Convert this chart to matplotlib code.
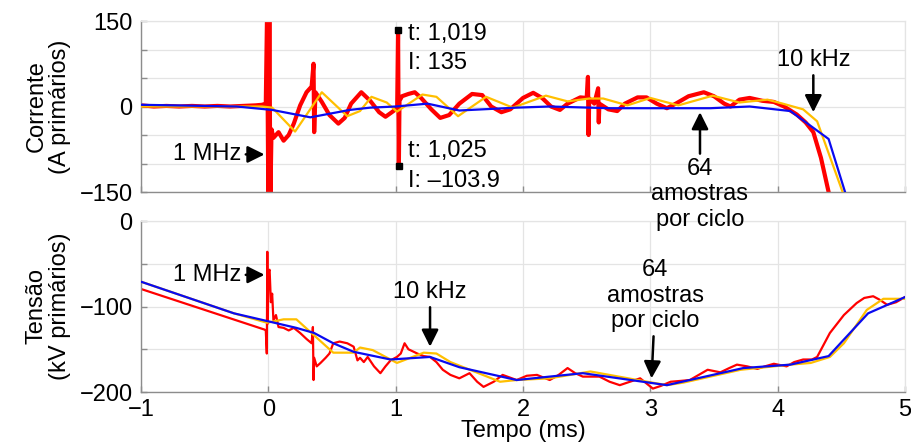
import matplotlib
matplotlib.use('Agg')
import matplotlib.pyplot as plt

plt.rcParams['font.family'] = ['Liberation Sans', 'DejaVu Sans']
plt.rcParams['font.size'] = 17

# ---- Corrente (A primarios) ----
cur_red_t = [-1.0, -0.9, -0.8, -0.7, -0.6, -0.5, -0.4, -0.3, -0.2, -0.1, -0.05, -0.02,
             -0.01, 0.0, 0.008, 0.016, 0.025, 0.04, 0.08, 0.12, 0.16, 0.2, 0.25, 0.3, 0.34,
             0.355, 0.36, 0.37, 0.42, 0.48, 0.55, 0.6, 0.65, 0.73, 0.8, 0.87, 0.92, 0.97,
             1.0, 1.012, 1.019, 1.022, 1.025, 1.03, 1.05, 1.1, 1.15, 1.2, 1.28, 1.35, 1.42,
             1.5, 1.6, 1.68, 1.75, 1.83, 1.9, 2.0, 2.08, 2.15, 2.22, 2.29, 2.35, 2.45, 2.5,
             2.51, 2.515, 2.52, 2.56, 2.59, 2.595, 2.6, 2.67, 2.74, 2.8, 2.9, 2.97, 3.05,
             3.13, 3.2, 3.3, 3.42, 3.5, 3.58, 3.63, 3.7, 3.78, 3.88, 3.97, 4.05, 4.15, 4.22,
             4.28, 4.34, 4.40, 4.43]
cur_red_i = [2, 0, 1, 0, 1, 0, 1, 0, 1, 2, 3, 5,
             165, -165, 165, -165, -40, -55, -45, -60, -50, -30, 2, 25, 35,
             75, -45, 25, 8, -15, -30, -20, 5, 25, 10, -10, -18, -10,
             -5, 0, 135, 0, -103.9, 10, 18, 22, 25, 15, -5, -20, -15,
             5, 22, 20, 0, -10, -5, 15, 24, 15, 0, -6, 5, 16, 15,
             52, -50, 14, 5, 32, -28, 5, -5, -8, 5, 16, 16, 5,
             -3, 5, 18, 25, 18, 5, 0, 12, 15, 10, 8, 0, -14, -28,
             -45, -90, -150, -175]

cur_yel_t = [-1.0, -0.05, 0.03, 0.21, 0.42, 0.62, 0.72, 0.81, 0.93, 1.01, 1.21, 1.32,
             1.49, 1.71, 1.92, 2.18, 2.35, 2.52, 2.63, 2.82, 3.0, 3.22, 3.49, 3.7, 3.92,
             4.04, 4.2, 4.31, 4.51, 4.55]
cur_yel_i = [0, 0, -2, -44, 25, -17, -8, 17, 7, -9, 21, 17,
             -17, 17, -2, 19, 9, 14, 14, 2, 15, 2, 19, 7, 12,
             5, -5, -26, -150, -180]

cur_blu_t = [-1.0, -0.25, 0.03, 0.33, 0.64, 0.8, 1.0, 1.25, 1.5, 1.95, 2.21, 2.68,
             3.47, 3.78, 4.1, 4.4, 4.55]
cur_blu_i = [3, 0, -6, -19, -6, -2, 0, 5, -7, -2, 0, -3,
             -3, 0, -8, -57, -165]

# ---- Tensao (kV primarios) ----
ten_red_t = [-1.0, -0.03, -0.02, -0.012, -0.008, -0.004, 0.0, 0.01, 0.02, 0.03, 0.04,
             0.06, 0.08, 0.12, 0.16, 0.2, 0.25, 0.3, 0.34, 0.35, 0.355, 0.36, 0.38, 0.41,
             0.45, 0.48, 0.51, 0.56, 0.62, 0.67, 0.7, 0.72, 0.75, 0.78, 0.83, 0.88, 0.92,
             0.96, 1.01, 1.04, 1.07, 1.1, 1.17, 1.22, 1.27, 1.32, 1.37, 1.43, 1.5, 1.58,
             1.64, 1.69, 1.77, 1.84, 1.95, 2.03, 2.11, 2.21, 2.28, 2.35, 2.41, 2.47, 2.6,
             2.68, 2.76, 2.84, 2.92, 2.97, 3.02, 3.08, 3.16, 3.24, 3.31, 3.38, 3.45, 3.55,
             3.62, 3.68, 3.76, 3.84, 3.9, 3.97, 4.07, 4.13, 4.2, 4.27, 4.31, 4.36, 4.41,
             4.52, 4.62, 4.68, 4.75, 4.8, 4.86, 4.93, 5.0]
ten_red_v = [-79.5, -127, -128, -155, -36, -120, -60, -57, -95, -85, -116,
             -110, -124, -125, -128, -125, -131, -138, -143, -124, -186, -160, -170, -166,
             -160, -155, -143, -141, -143, -147, -163, -160, -165, -159, -170, -178, -170,
             -163, -159, -155, -143, -150, -155, -158, -159, -165, -174, -180, -184, -178,
             -188, -194, -188, -180, -186, -181, -180, -186, -180, -172, -178, -182, -182,
             -188, -192, -188, -184, -190, -196, -193, -188, -187, -186, -180, -174, -177,
             -172, -168, -170, -173, -170, -167, -170, -165, -162, -162, -159, -145, -131,
             -110, -96, -90, -88, -92, -98, -95, -89]

ten_yel_t = [-1.0, -0.27, -0.01, 0.12, 0.22, 0.51, 0.67, 0.72, 0.82, 1.01, 1.22, 1.32,
             1.43, 1.82, 1.95, 2.21, 2.53, 2.9, 3.13, 3.26, 3.71, 4.1, 4.26, 4.41, 4.52,
             4.7, 4.83, 5.0]
ten_yel_v = [-71, -108, -119, -115, -115, -154, -154, -148, -151, -166, -154, -155,
             -165, -188, -186, -184, -176, -186, -192, -189, -174, -168, -166, -159, -143,
             -104, -91, -91]

ten_blu_t = [-1.0, -0.27, -0.01, 0.22, 0.36, 0.51, 0.67, 0.96, 1.27, 1.5, 1.95, 2.47,
             3.13, 3.73, 4.1, 4.4, 4.71, 5.0]
ten_blu_v = [-71, -108, -117, -125, -131, -143, -153, -162, -159, -171, -186, -178,
             -192, -172, -168, -158, -108, -89]

RED = '#ff0000'
YEL = '#ffbf00'
BLU = '#0a0af0'
GRID = '#e4e4e4'
SPINE = '#8c8c8c'

fig = plt.figure(figsize=(9.11, 4.44), dpi=100)
ax1 = fig.add_axes([141 / 911, 1 - 192 / 444, 764 / 911, 171 / 444])
ax2 = fig.add_axes([141 / 911, 1 - 392 / 444, 764 / 911, 171 / 444])
# top axes drawn above so its annotation can overflow into the lower panel
ax1.set_zorder(3)
ax1.patch.set_visible(False)


def style(ax):
    ax.grid(True, color=GRID, lw=0.9)
    ax.set_axisbelow(True)
    for s in ['left', 'bottom']:
        ax.spines[s].set_color(SPINE)
        ax.spines[s].set_linewidth(1.0)
    for s in ['top', 'right']:
        ax.spines[s].set_color(GRID)
        ax.spines[s].set_linewidth(0.9)
    ax.tick_params(direction='in', length=4, color=SPINE, width=1.0, pad=6)
    ax.set_xlim(-1, 5)
    ax.set_xticks([-1, 0, 1, 2, 3, 4, 5])


# top panel
style(ax1)
ax1.plot(cur_red_t, cur_red_i, color=RED, lw=3.0, zorder=2)
ax1.plot(cur_yel_t, cur_yel_i, color=YEL, lw=1.6, zorder=3)
ax1.plot(cur_blu_t, cur_blu_i, color=BLU, lw=1.6, zorder=4)
ax1.set_ylim(-150, 150)
ax1.set_yticks([-150, -100, -50, 0, 50, 100, 150])
ax1.set_yticklabels(['\u2212150', '', '', '0', '', '', '150'])
ax1.set_xticklabels([])
ax1.set_ylabel('Corrente\n(A primários)', linespacing=1.1, labelpad=6)

ax1.plot([1.019, 1.025], [135, -103.9], ls='none', marker='s', ms=4.5,
         color='black', zorder=6)
ax1.text(1.10, 128, 't: 1,019', va='center', ha='left')
ax1.text(1.10, 77, 'I: 135', va='center', ha='left')
ax1.text(1.10, -78, 't: 1,025', va='center', ha='left')
ax1.text(1.10, -130, 'I: \u2013103.9', va='center', ha='left')

arrow = dict(arrowstyle='-|>,head_length=0.6,head_width=0.3', color='black',
             lw=1.8, shrinkA=1, shrinkB=0)
ax1.annotate('1 MHz', xy=(-0.03, -84), xytext=(-0.21, -84), ha='right',
             va='center', arrowprops=arrow)
ax1.annotate('10 kHz', xy=(4.28, -10), xytext=(4.28, 62), ha='center',
             va='bottom', arrowprops=arrow)
ax1.annotate('64\namostras\npor ciclo', xy=(3.39, -10), xytext=(3.39, -90),
             ha='center', va='top', linespacing=1.2, arrowprops=arrow,
             annotation_clip=False)

# bottom panel
style(ax2)
ax2.plot(ten_red_t, ten_red_v, color=RED, lw=1.6, zorder=2)
ax2.plot(ten_yel_t, ten_yel_v, color=YEL, lw=1.6, zorder=3)
ax2.plot(ten_blu_t, ten_blu_v, color=BLU, lw=1.6, zorder=4)
ax2.set_ylim(-200, 0)
ax2.set_yticks([-200, -150, -100, -50, 0])
ax2.set_yticklabels(['\u2212200', '', '\u2212100', '', '0'])
ax2.set_xticklabels(['\u22121', '0', '1', '2', '3', '4', '5'])
ax2.tick_params(axis='x', pad=5)
ax2.set_ylabel('Tensão\n(kV primários)', linespacing=1.1, labelpad=6)
ax2.set_xlabel('Tempo (ms)', labelpad=-1)

ax2.annotate('1 MHz', xy=(-0.03, -63), xytext=(-0.21, -63), ha='right',
             va='center', arrowprops=arrow)
ax2.annotate('10 kHz', xy=(1.27, -147), xytext=(1.27, -96), ha='center',
             va='bottom', arrowprops=arrow)
ax2.annotate('64\namostras\npor ciclo', xy=(3.01, -184), xytext=(3.04, -130),
             ha='center', va='bottom', linespacing=1.2, arrowprops=arrow)

fig.savefig('out.png', dpi=100)
